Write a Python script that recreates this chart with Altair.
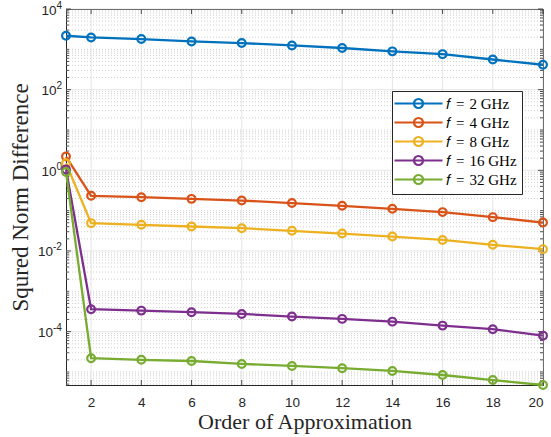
import altair as alt
import pandas as pd

orders = [1, 2, 4, 6, 8, 10, 12, 14, 16, 18, 20]
S = "\u2004"
names = [f"𝑓{S}={S}2 GHz", f"𝑓{S}={S}4 GHz", f"𝑓{S}={S}8 GHz", f"𝑓{S}={S}16 GHz", f"𝑓{S}={S}32 GHz"]
f2 = [2170, 1970, 1800, 1570, 1430, 1250, 1080, 890, 760, 560, 415]
f4 = [2.2, 0.233, 0.216, 0.196, 0.178, 0.154, 0.132, 0.111, 0.092, 0.069, 0.0507]
f8 = [1.5, 0.049, 0.0445, 0.0404, 0.0368, 0.0316, 0.027, 0.0228, 0.0188, 0.0142, 0.0111]
f16 = [1.05, 3.6e-4, 3.32e-4, 3.03e-4, 2.75e-4, 2.36e-4, 2.07e-4, 1.77e-4, 1.41e-4, 1.15e-4, 7.96e-5]
f32 = [0.91, 2.19e-5, 2.0e-5, 1.87e-5, 1.58e-5, 1.41e-5, 1.24e-5, 1.06e-5, 8.4e-6, 6.3e-6, 4.75e-6]
colors = ["#0072BD", "#D95319", "#EDB120", "#7E2F8E", "#77AC30"]
x_ticks = [2, 4, 6, 8, 10, 12, 14, 16, 18, 20]
y_major = [1e-4, 1e-2, 1.0, 1e2, 1e4]
y_pos_exp = ["0", "2", "4"]
y_pos_vals = [1.0, 1e2, 1e4]
y_neg_exp = ["-4", "-2"]
y_neg_vals = [1e-4, 1e-2]

rows = []
for name, vals in zip(names, [f2, f4, f8, f16, f32]):
    for x, v in zip(orders, vals):
        rows.append({"order": x, "value": v, "series": name})
df = pd.DataFrame(rows)

W, H = 477, 376
ymin, ymax = 4.75e-6, 1e4
xs = alt.Scale(domain=[1, 20], nice=False, zero=False)
ys = alt.Scale(type="log", domain=[ymin, ymax], nice=False)

minor = []
for e in range(-6, 4):
    for k in range(1, 10):
        v = k * 10.0 ** e
        if ymin < v < ymax and not (k == 1 and e % 2 == 0):
            minor.append(v)
minor_df = pd.DataFrame({"value": minor})
major_df = pd.DataFrame({"value": y_major})
xt_df = pd.DataFrame({"order": x_ticks})
pos_df = pd.DataFrame({"value": y_pos_vals, "exp": y_pos_exp})
neg_df = pd.DataFrame({"value": y_neg_vals, "exp": y_neg_exp})

AX = "#262626"
grid_minor = alt.Chart(minor_df).mark_rule(color="#c4c4c4", strokeDash=[1, 2], strokeWidth=0.8).encode(
    y=alt.Y("value:Q", scale=ys), x=alt.value(0), x2=alt.value(W))
grid_major = alt.Chart(major_df).mark_rule(color="#dedede", strokeWidth=0.8).encode(
    y=alt.Y("value:Q", scale=ys), x=alt.value(0), x2=alt.value(W))
grid_x = alt.Chart(xt_df).mark_rule(color="#dedede", strokeWidth=0.8).encode(
    x=alt.X("order:Q", scale=xs), y=alt.value(0), y2=alt.value(H))

tk = []
for d, L in [(major_df, 5), (minor_df, 3)]:
    tk.append(alt.Chart(d).mark_rule(color=AX, strokeWidth=0.8).encode(
        y=alt.Y("value:Q", scale=ys), x=alt.value(0), x2=alt.value(L)))
    tk.append(alt.Chart(d).mark_rule(color=AX, strokeWidth=0.8).encode(
        y=alt.Y("value:Q", scale=ys), x=alt.value(W - L), x2=alt.value(W)))
tk.append(alt.Chart(xt_df).mark_rule(color=AX, strokeWidth=0.8).encode(
    x=alt.X("order:Q", scale=xs), y=alt.value(H - 5), y2=alt.value(H)))
tk.append(alt.Chart(xt_df).mark_rule(color=AX, strokeWidth=0.8).encode(
    x=alt.X("order:Q", scale=xs), y=alt.value(0), y2=alt.value(5)))

# y tick labels: "10" with raised exponent
lab = []
for d, ew in [(pos_df, 6.0), (neg_df, 9.5)]:
    lab.append(alt.Chart(d).mark_text(align="right", baseline="middle", font="Liberation Sans",
                                      fontSize=13.5, color=AX, dy=1.5).encode(
        y=alt.Y("value:Q", scale=ys), x=alt.value(-3.5 - ew), text=alt.value("10")))
    lab.append(alt.Chart(d).mark_text(align="left", baseline="middle", font="Liberation Sans",
                                      fontSize=10, color=AX, dy=-3.5).encode(
        y=alt.Y("value:Q", scale=ys), x=alt.value(-3.5 - ew), text="exp:N"))

sym_path = "M-4.8,0L4.8,0M0.9,0A0.9,0.9,0,1,1,-0.9,0A0.9,0.9,0,1,1,0.9,0"
legend = alt.Legend(title=None, orient="none", legendX=326, legendY=82,
                    symbolType=sym_path, symbolSize=100, symbolStrokeWidth=2.2,
                    labelFont="Liberation Serif", labelFontSize=15, labelColor="#000000",
                    labelOffset=20, symbolOffset=14, padding=5, rowPadding=0,
                    strokeColor=AX, fillColor="white", cornerRadius=0)
cscale = alt.Scale(domain=names, range=colors)

yaxis = alt.Axis(values=y_major, tickSize=0, grid=False, labels=False, domainColor=AX,
                 title="Squred Norm Difference", titleFont="Liberation Serif", titleFontSize=23,
                 titleFontWeight="normal", titleColor=AX, titlePadding=33)
xaxis = alt.Axis(values=x_ticks, tickSize=0, grid=False, labelFont="Liberation Sans", labelFontSize=13.5,
                 labelColor=AX, labelPadding=10, domainColor=AX,
                 title="Order of Approximation", titleFont="Liberation Serif", titleFontSize=22,
                 titleFontWeight="normal", titleColor=AX, titlePadding=3)

base = alt.Chart(df)
lines = base.mark_line(strokeWidth=2.3).encode(
    x=alt.X("order:Q", scale=xs, axis=xaxis),
    y=alt.Y("value:Q", scale=ys, axis=yaxis),
    color=alt.Color("series:N", scale=cscale, sort=names, legend=legend),
    detail="series:N")
pts = base.mark_point(shape="circle", filled=False, size=60, strokeWidth=2.2, opacity=1).encode(
    x=alt.X("order:Q", scale=xs),
    y=alt.Y("value:Q", scale=ys),
    color=alt.Color("series:N", scale=cscale, sort=names, legend=legend))

chart = alt.layer(grid_minor, grid_major, grid_x, *tk, *lab, lines, pts).properties(
    width=W, height=H, autosize=alt.AutoSizeParams(type="none"),
    padding={"left": 66, "top": 9, "right": 8, "bottom": 52},
    background="white"
).configure_view(stroke=AX, strokeWidth=1)

chart.save("out.html", embed_options={"renderer": "svg", "actions": False})
